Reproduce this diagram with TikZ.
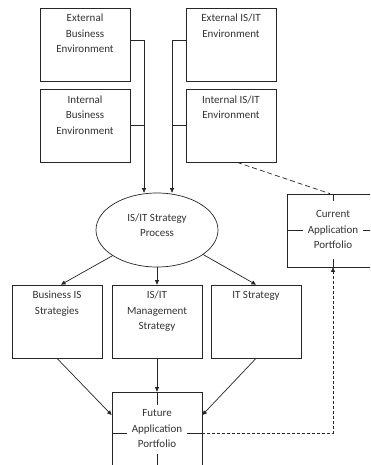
\documentclass[tikz,border=0pt]{standalone}
\usepackage{fontspec}
\setmainfont{Carlito}
\usetikzlibrary{shapes.geometric,arrows.meta}
\begin{document}
\begin{tikzpicture}[x=1pt,y=-1pt,
  box/.style={draw=black!85, line width=0.7pt, minimum width=90pt, minimum height=73pt, inner sep=0pt},
  lbl/.style={font=\fontsize{11}{15.5}\selectfont, text=black!80, align=center, inner sep=0pt, anchor=north},
  conn/.style={draw=black!85, line width=0.7pt},
  arr/.style={conn, -{Triangle[length=4.5pt,width=4pt]}},
  dsh/.style={conn, dash pattern=on 3pt off 2pt},
  dshl/.style={conn, dash pattern=on 5pt off 3pt},
  mask/.style={font=\fontsize{11}{15.5}\selectfont, text=black!80, fill=white, align=center, inner sep=0pt, minimum width=60pt}
]
\useasboundingbox (0,0) rectangle (370,465);
\fill[white] (0,0) rectangle (370,465);
\clip (0,0) rectangle (370,465);

% top boxes
\node[box] (eb) at (85,44.5) {};
\node[box] (ib) at (85,125.5) {};
\node[box] (ee) at (231,44.5) {};
\node[box] (ie) at (231,125.5) {};
\node[lbl] (ebt) at ([yshift=-6.5pt]eb.north) {External\\Business\\Environment};
\node[lbl] (ibt) at ([yshift=-7pt]ib.north) {Internal\\Business\\Environment};
\node[lbl] (eet) at ([yshift=-6.5pt]ee.north) {External IS/IT\\Environment};
\node[lbl] (iet) at ([yshift=-7pt]ie.north) {Internal IS/IT\\Environment};

% process ellipse
\node[draw=black!85, line width=0.7pt, ellipse, minimum width=122pt, minimum height=74pt, inner sep=0pt] (proc) at (157,230) {};
\node[lbl, anchor=center] (proct) at (157,225) {IS/IT Strategy\\Process};

% lower boxes
\node[box] (bis) at (57,321.5) {};
\node[box] (mgt) at (157,321.5) {};
\node[box] (its) at (256,321.5) {};
\node[lbl] (bist) at ([yshift=-6.5pt]bis.north) {Business IS\\Strategies};
\node[lbl] (mgtt) at ([yshift=-6.5pt]mgt.north) {IS/IT\\Management\\Strategy};
\node[lbl] (itst) at ([yshift=-6.5pt]its.north) {IT Strategy};

% current application portfolio
\node[box, minimum width=92pt] (cap) at (333,230.5) {};
\draw[conn] (cap.north) -- (cap.south);
\draw[conn] (cap.west) -- (cap.east);
\node[mask, minimum height=58pt] (capt) at (333,229.5) {Current\\Application\\Portfolio};

% future application portfolio
\node[box, minimum height=74pt] (fap) at (157,429) {};
\draw[conn] (fap.north) -- (fap.south);
\draw[conn] ([yshift=-4pt]fap.west) -- ([yshift=-4pt]fap.east);
\node[mask, minimum height=49pt] (fapt) at (157,429) {Future\\Application\\Portfolio};

% top connectors
\coordinate (jl) at (144,40);
\coordinate (jr) at (172,40);
\draw[conn] ([yshift=4.5pt]eb.east) -- (jl);
\draw[conn] (ib.east) -- (ib.east -| jl);
\draw[arr] (jl) -- (jl |- proc.north);
\draw[conn] ([yshift=4.5pt]ee.west) -- (jr);
\draw[conn] (ie.west) -- (ie.west -| jr);
\draw[arr] (jr) -- (jr |- proc.north);

% from process
\draw[arr] (proc.210) -- ([xshift=4pt]bis.north);
\draw[arr] (proc.south) -- (mgt.north);
\draw[arr] (proc.332) -- (its.north);

% into future
\draw[arr] (bis.south) -- ([yshift=14pt]fap.west);
\draw[arr] (mgt.south) -- (fap.north);
\draw[arr] (its.south) -- ([yshift=14pt]fap.east);

% dashed links
\draw[dshl] ([xshift=6pt]ie.south) -- ([xshift=-3pt]cap.north);
\draw[dsh, -{Triangle[length=4.5pt,width=4pt]}] ([yshift=-4pt]fap.east) -| (cap.south);
\end{tikzpicture}
\end{document}
